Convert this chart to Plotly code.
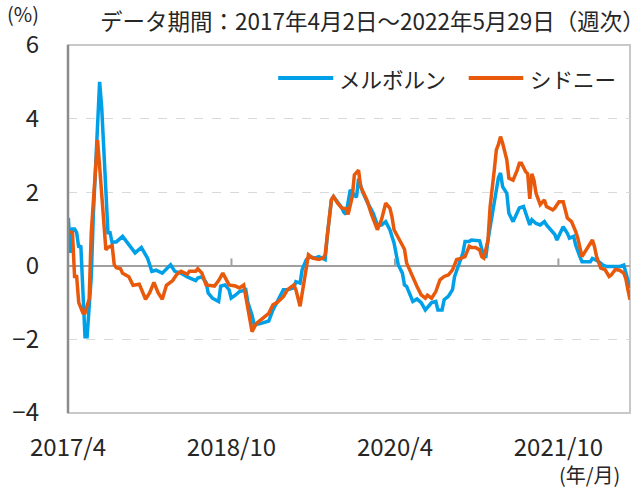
import pandas as pd
import plotly.graph_objects as go

# weekly dates of the data period
weeks_all = pd.date_range("2017-04-02", "2022-05-29", freq="W-SUN")

# Melbourne (week index, value %)
mel_week = [0, 1, 2, 3, 4, 5, 6, 7, 8, 9, 10, 11, 12, 14, 15, 16, 17, 18, 19, 20, 21, 22, 23, 26, 28, 30, 32, 35, 38,
            40, 42, 45, 47, 49, 51, 54, 57, 61, 62, 64, 66, 67, 69, 72, 73, 75, 77, 78, 80, 82, 85, 86, 88, 89, 92,
            96, 98, 100, 103, 105, 108, 109, 111, 112, 114, 116, 118, 120, 123, 124, 126, 127, 130, 131, 132, 133,
            135, 136, 138, 139, 141, 143, 146, 148, 150, 152, 154, 156, 157, 158, 160, 161, 162, 164, 165, 167, 169,
            171, 173, 174, 176, 177, 179, 180, 182, 184, 185, 187, 189, 190, 192, 193, 196, 197, 199, 200, 201, 203,
            205, 206, 207, 208, 210, 211, 213, 215, 216, 218, 219, 220, 221, 222, 224, 226, 228, 229, 232, 233, 234,
            236, 237, 239, 240, 242, 243, 245, 246, 248, 250, 251, 253, 255, 256, 258, 259, 262, 264, 266, 267, 268,
            269]
mel_val = [1.30, 0.35, 1.00, 1.00, 0.90, 0.50, 0.55, -1.00, -1.93, -1.93, -1.00, -0.30, 1.40, 4.00, 5.00, 4.30, 3.00,
           1.80, 0.90, 0.90, 0.62, 0.65, 0.65, 0.80, 0.66, 0.50, 0.35, 0.50, 0.20,
           -0.15, -0.12, -0.20, -0.08, 0.03, -0.15, -0.20, -0.30, -0.40, -0.33, -0.30, -0.45, -0.74, -0.88, -0.97,
           -0.55, -0.52, -0.65, -0.88, -0.80, -0.70, -0.65, -1.00, -1.34, -1.60, -1.57,
           -1.50, -1.20, -0.97, -0.65, -0.65, -0.60, -0.43, -0.47, -0.10, 0.17, 0.25, 0.21, 0.25, 0.17, 0.80, 1.79,
           1.88, 1.65, 1.57, 1.45, 1.40,
           2.06, 2.00, 1.86, 2.37, 2.00, 1.75, 1.43, 1.11, 1.11, 1.20, 0.98, 0.62, 0.25, 0.03, -0.20, -0.52, -0.56,
           -0.83, -0.97, -0.90, -1.00,
           -1.20, -1.06, -1.00, -0.97, -1.20, -1.20, -0.92, -0.83, -0.65, -0.29, 0.03, 0.35, 0.66, 0.66, 0.70, 0.70,
           0.68, 0.25, 0.25, 0.70, 1.40,
           2.06, 2.40, 2.52, 2.15, 1.97, 1.43, 1.20, 1.48, 1.57, 1.61, 1.43, 1.30, 1.11, 1.25, 1.15, 1.11, 1.20, 1.11,
           0.93, 0.85, 0.70,
           0.93, 1.06, 0.88, 0.75, 0.80, 0.56, 0.25, 0.11, 0.11, 0.11, 0.20, 0.15, 0.07, 0.02, -0.02, -0.02, -0.02,
           -0.02, 0.02, -0.20, -0.47,
           -0.60]

# Sydney (week index, value %)
syd_week = [0, 2, 3, 4, 5, 7, 8, 10, 11, 13, 14, 15, 17, 18, 19, 21, 22, 23, 25, 26, 29, 31, 34, 35, 37, 39, 41, 43,
            45, 47, 50, 52, 54, 57, 58, 61, 62, 64, 66, 70, 72, 74, 77, 80, 82, 84, 86, 88, 90, 93, 96, 98, 100, 103,
            105, 108, 109, 111, 113, 115, 117, 120, 122, 123, 124, 126, 127, 129, 131, 133, 134, 136, 137, 139, 140,
            143, 145, 147, 148, 150, 152, 154, 155, 156, 158, 161, 162, 164, 166, 167, 169, 171, 172, 174, 176, 178,
            180, 182, 184, 186, 188, 190, 192, 193, 195, 196, 197, 198, 199, 201, 202, 204, 205, 206, 207, 208, 210,
            211, 213, 215, 216, 217, 219, 220, 221, 222, 223, 224, 226, 228, 229, 232, 233, 235, 237, 239, 241, 243,
            244, 246, 247, 249, 251, 252, 253, 255, 257, 259, 260, 262, 264, 266, 267, 268, 269]
syd_val = [0.93, 0.90, -0.29, -0.29, -1.00, -1.28, -1.28, -0.90, 0.90, 2.70, 3.42, 2.70, 0.97, 0.43, 0.50, 0.55, 0.03,
           -0.05, -0.08, -0.20, -0.30, -0.53, -0.50, -0.64, -0.91, -0.73, -0.45, -0.73,
           -0.91, -0.53, -0.40, -0.23, -0.15, -0.23, -0.15, -0.15, -0.08, -0.20, -0.52, -0.55, -0.40, -0.20, -0.52,
           -0.55, -0.60, -0.52, -1.10, -1.79, -1.57, -1.44, -1.29, -1.06, -1.00, -0.84,
           -0.65, -0.52, -0.65, -1.10, -0.40, 0.30, 0.21, 0.17, 0.21, 0.30, 0.80, 1.79, 1.88, 1.70, 1.57, 1.55, 1.40,
           1.88, 2.47, 2.60, 2.15,
           1.79, 1.43, 1.11, 0.98, 1.25, 1.70, 1.57, 1.34, 0.98, 0.76, 0.45, 0.08, -0.20, -0.47, -0.56, -0.79, -0.88,
           -0.80, -0.88, -0.70, -0.38,
           -0.29, -0.25, -0.11, 0.17, 0.20, 0.25, 0.53, 0.50, 0.50, 0.45, 0.43, 0.25, 0.21, 0.70, 1.60, 2.60, 3.15,
           3.30, 3.51, 3.33, 2.88,
           2.38, 2.33, 2.60, 2.79, 2.79, 2.56, 2.50, 1.82, 2.50, 2.33, 1.97, 1.66, 1.79, 1.61, 1.52, 1.57, 1.74, 1.74,
           1.30, 1.20, 0.93,
           0.75, 0.25, 0.34, 0.52, 0.70, 0.52, 0.25, -0.06, -0.10, -0.29, -0.25, -0.10, -0.12, -0.20, -0.35, -0.65,
           -0.92]

series_names = ["メルボルン", "シドニー"]
series_colors = ["#00A0E9", "#E8590C"]

tick_dates = ["2017-04-01", "2018-10-01", "2020-04-01", "2021-10-01"]
tick_text = ["2017/4", "2018/10", "2020/4", "2021/10"]
y_ticks = [-4, -2, 0, 2, 4, 6]

title_text = "データ期間：2017年4月2日～2022年5月29日（週次）"
y_unit = "(%)"
x_unit = "(年/月)"

FONT = "Noto Sans CJK JP"
TXT = "#262626"

fig = go.Figure()
fig.add_trace(go.Scatter(x=weeks_all[mel_week], y=mel_val, mode="lines", name=series_names[0],
                         line=dict(color=series_colors[0], width=3.5), showlegend=False))
fig.add_trace(go.Scatter(x=weeks_all[syd_week], y=syd_val, mode="lines", name=series_names[1],
                         line=dict(color=series_colors[1], width=3.5), showlegend=False))

shapes = []
# plot frame
shapes.append(dict(type="rect", xref="paper", yref="paper", x0=0, x1=1, y0=0, y1=1,
                   line=dict(color="#c8c8c8", width=2), layer="below"))
# left axis line
shapes.append(dict(type="line", xref="paper", yref="paper", x0=0, x1=0, y0=0, y1=1,
                   line=dict(color="#8c8c8c", width=2.5)))
# tick marks on zero line
for d in tick_dates[1:]:
    shapes.append(dict(type="line", xref="x", yref="y", x0=d, x1=d, y0=0, y1=0.2,
                       line=dict(color="#a0a0a0", width=2)))

# custom legend
leg = [(0.374, 0.472, 0.479), (0.713, 0.810, 0.818)]
for (x0, x1, xt), name, col in zip(leg, series_names, series_colors):
    shapes.append(dict(type="line", xref="paper", yref="paper", x0=x0, x1=x1, y0=0.910, y1=0.910,
                       line=dict(color=col, width=4)))

annotations = [
    dict(text=title_text, xref="paper", yref="paper", x=0.0525, y=1.068, xanchor="left", yanchor="middle",
         showarrow=False, font=dict(size=22.5, color=TXT, family=FONT)),
    dict(text=y_unit, xref="paper", yref="paper", x=-0.08, y=1.085, xanchor="center", yanchor="middle",
         showarrow=False, font=dict(size=20, color=TXT, family=FONT)),
    dict(text=x_unit, xref="paper", yref="paper", x=0.985, y=-0.168, xanchor="right", yanchor="middle",
         showarrow=False, font=dict(size=20, color=TXT, family=FONT)),
]
for (x0, x1, xt), name in zip(leg, series_names):
    annotations.append(dict(text=name, xref="paper", yref="paper", x=xt, y=0.910, xanchor="left",
                            yanchor="middle", showarrow=False, font=dict(size=21.5, color=TXT, family=FONT)))

fig.update_layout(
    width=644, height=488,
    margin=dict(l=66, r=14, t=45, b=75),
    paper_bgcolor="white", plot_bgcolor="white",
    font=dict(family=FONT, size=21, color=TXT),
    showlegend=False,
    shapes=shapes, annotations=annotations,
    xaxis=dict(type="date", range=["2017-04-01", "2022-05-29"], tickvals=tick_dates, ticktext=tick_text,
               showgrid=False, zeroline=False, showline=False, ticks="", ticklabelstandoff=18,
               tickfont=dict(size=24, color=TXT, family=FONT)),
    yaxis=dict(range=[-4, 6], tickvals=y_ticks, showgrid=True, gridcolor="#d9d9d9", griddash="dash",
               gridwidth=1, zeroline=True, zerolinecolor="#a0a0a0", zerolinewidth=2, showline=False,
               ticks="", ticklabelstandoff=28, tickfont=dict(size=24, color=TXT, family=FONT)),
)

fig.write_html("out.html", config={"displayModeBar": False},
               post_script="document.body.style.margin='0';")
